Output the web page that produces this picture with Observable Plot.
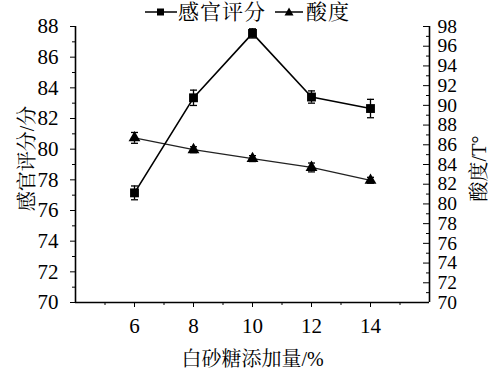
<!DOCTYPE html>
<html><head><meta charset="utf-8">
<script src="https://cdn.jsdelivr.net/npm/d3@7"></script>
<script src="https://cdn.jsdelivr.net/npm/@observablehq/plot@0.6"></script>
<style>
body{margin:0;background:#fff;}
#wrap{position:relative;width:496px;height:375px;overflow:hidden;}
#chart svg text{font-family:"Liberation Serif","Times New Roman",Tinos,"DejaVu Serif","Noto Serif CJK SC","Noto Sans CJK SC",serif !important;}
#legend{position:absolute;left:0;top:0;width:496px;height:26px;font-family:"Liberation Serif","Times New Roman",Tinos,"DejaVu Serif","Noto Serif CJK SC","Noto Sans CJK SC",serif;font-size:21px;color:#000;}
#legend span{position:absolute;top:0px;line-height:24px;white-space:nowrap;letter-spacing:1px;}
</style></head><body>
<div id="wrap"><div id="chart"></div><div id="legend"></div></div>
<script>
// ---- data ----
const sugar = [6, 8, 10, 12, 14];                    // 白砂糖添加量/%
const sensory = [77.15, 83.35, 87.55, 83.4, 82.65];  // 感官评分 (left axis)
const sensoryErr = [0.45, 0.5, 0.3, 0.4, 0.6];
const acidity = [86.7, 85.5, 84.6, 83.7, 82.4];      // 酸度 °T (right axis)
const acidityErr = [0.55, 0.3, 0.3, 0.45, 0.3];
const seriesNames = ["感官评分", "酸度"];
const xTitle = "白砂糖添加量/%";
const yLeftTitle = "感官评分/分";
const yRightTitle = "酸度/T°";
const xDomain = [4, 16];
const xMajor = [6, 8, 10, 12, 14];
const xMinor = [5, 7, 9, 11, 13, 15];
const leftDomain = [70, 88];
const leftMajor = d3.range(70, 89, 2);
const leftMinor = d3.range(71, 88, 2);
const rightDomain = [70, 98];
const rightMajor = d3.range(70, 99, 2);
const rightMinor = d3.range(71, 98, 2);

// map right-axis values onto the left scale
const toLeft = v => leftDomain[0] + (v - rightDomain[0]) * (leftDomain[1] - leftDomain[0]) / (rightDomain[1] - rightDomain[0]);
const toRight = v => rightDomain[0] + (v - leftDomain[0]) * (rightDomain[1] - rightDomain[0]) / (leftDomain[1] - leftDomain[0]);

const rows = sugar.map((s, i) => ({
  s,
  score: sensory[i], sLo: sensory[i] - sensoryErr[i], sHi: sensory[i] + sensoryErr[i],
  acid: toLeft(acidity[i]), aLo: toLeft(acidity[i] - acidityErr[i]), aHi: toLeft(acidity[i] + acidityErr[i])
}));

const cap = {draw(ctx) { ctx.moveTo(-3.5, 0); ctx.lineTo(3.5, 0); }};
const font = "'Liberation Serif', 'Times New Roman', Tinos, 'DejaVu Serif', 'Noto Serif CJK SC', 'Noto Sans CJK SC', serif";

const chart = Plot.plot({
  width: 496, height: 375,
  marginLeft: 75, marginRight: 67, marginTop: 26, marginBottom: 73,
  x: {domain: xDomain},
  y: {domain: leftDomain},
  style: {fontFamily: font, fontSize: "20px", color: "#000", background: "#fff"},
  marks: [
    // axis lines
    Plot.ruleX([xDomain[0]], {strokeWidth: 1.6, stroke: "#000"}),
    Plot.ruleX([xDomain[1]], {strokeWidth: 1.6, stroke: "#000"}),
    Plot.ruleY([leftDomain[0]], {strokeWidth: 1.3, stroke: "#000"}),
    // x axis
    Plot.axisX(xMajor, {tickSize: 5, tickPadding: 11, label: null, fontSize: 21, fontFamily: font}),
    Plot.axisX(xMinor, {tickSize: 3, fill: "none", label: null}),
    // left axis
    Plot.axisY(leftMajor, {anchor: "left", tickSize: 5, tickPadding: 12, label: null, fontSize: 21, fontFamily: font}),
    Plot.axisY(leftMinor, {anchor: "left", tickSize: 3, fill: "none", label: null}),
    // right axis (ticks inward, labels outside)
    Plot.axisY(rightMajor.map(toLeft), {anchor: "left", frameAnchor: "right", tickSize: 6, fill: "none", label: null}),
    Plot.axisY(rightMinor.map(toLeft), {anchor: "left", frameAnchor: "right", tickSize: 3, fill: "none", label: null}),
    Plot.axisY(rightMajor.map(toLeft), {anchor: "right", tickSize: 0, tickPadding: 8, label: null, fontSize: 19.5, fontFamily: font,
      tickFormat: d => String(Math.round(toRight(d)))}),
    // titles
    Plot.text([xTitle], {frameAnchor: "bottom", lineAnchor: "middle", textAnchor: "middle", dy: 57, fontSize: 20, fontFamily: font, text: d => d}),
    Plot.text([yLeftTitle], {frameAnchor: "left", textAnchor: "middle", lineAnchor: "middle", rotate: -90, dx: -48, dy: -6, fontSize: 20, fontFamily: font, text: d => d}),
    Plot.text([yRightTitle], {frameAnchor: "right", textAnchor: "middle", lineAnchor: "middle", rotate: -90, dx: 50, dy: 4, fontSize: 20, fontFamily: font, text: d => d}),
    // series lines
    Plot.line(rows, {x: "s", y: "acid", stroke: "#222", strokeWidth: 1.3}),
    Plot.line(rows, {x: "s", y: "score", stroke: "#000", strokeWidth: 1.6}),
    // error bars
    Plot.ruleX(rows, {x: "s", y1: "sLo", y2: "sHi", stroke: "#000", strokeWidth: 1.3}),
    Plot.dot(rows, {x: "s", y: "sLo", symbol: cap, stroke: "#000", fill: "none", strokeWidth: 1.3}),
    Plot.dot(rows, {x: "s", y: "sHi", symbol: cap, stroke: "#000", fill: "none", strokeWidth: 1.3}),
    Plot.ruleX(rows, {x: "s", y1: "aLo", y2: "aHi", stroke: "#000", strokeWidth: 1.3}),
    Plot.dot(rows, {x: "s", y: "aLo", symbol: cap, stroke: "#000", fill: "none", strokeWidth: 1.3}),
    Plot.dot(rows, {x: "s", y: "aHi", symbol: cap, stroke: "#000", fill: "none", strokeWidth: 1.3}),
    // markers
    Plot.dot(rows, {x: "s", y: "score", symbol: "square", r: 5, fill: "#000", stroke: "none"}),
    Plot.dot(rows, {x: "s", y: "acid", symbol: "triangle", r: 4.4, fill: "#000", stroke: "none"})
  ]
});
document.getElementById("chart").appendChild(chart);

// legend
const lg = document.getElementById("legend");
lg.innerHTML = `
<svg width="496" height="26" style="position:absolute;left:0;top:0">
  <line x1="145" x2="177" y1="12" y2="12" stroke="#000" stroke-width="1.5"/>
  <rect x="157" y="8.5" width="7" height="7" fill="#000"/>
  <line x1="275" x2="303" y1="12" y2="12" stroke="#000" stroke-width="1.5"/>
  <path d="M289,7.5 L293.5,15.5 L284.5,15.5 Z" fill="#000"/>
</svg>
<span style="left:178px">${seriesNames[0]}</span>
<span style="left:306px">${seriesNames[1]}</span>`;
</script>
</body></html>
